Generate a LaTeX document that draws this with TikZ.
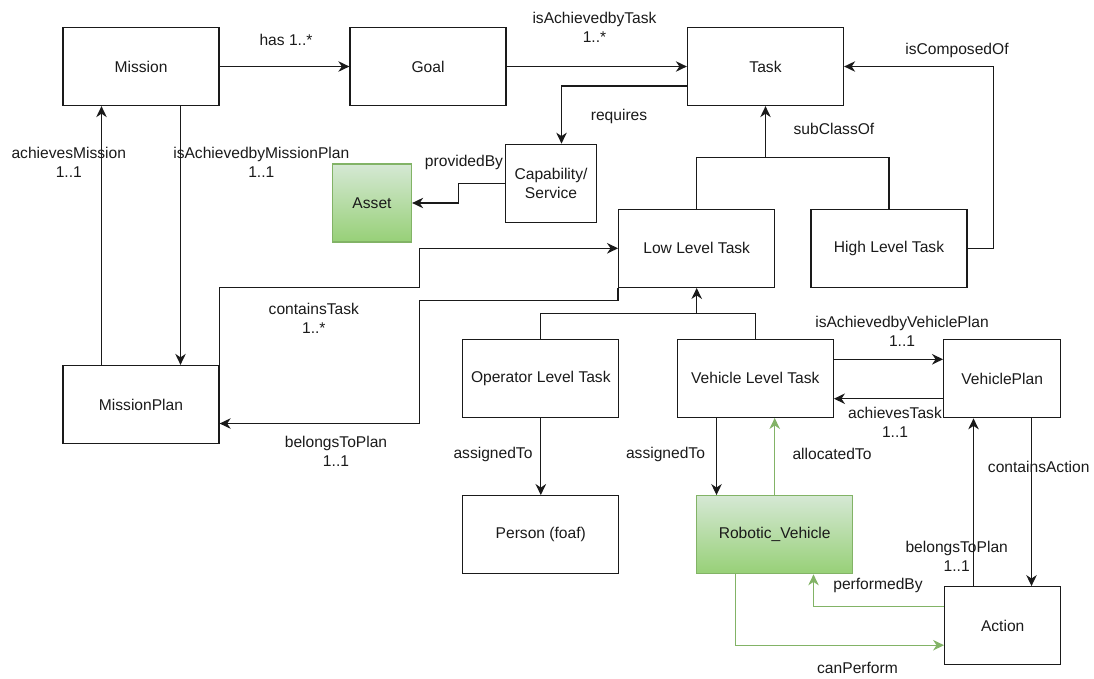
\documentclass[tikz,border=0pt]{standalone}
\usepackage{fontspec}
\setmainfont{Liberation Sans}
\usetikzlibrary{arrows.meta}
\definecolor{ink}{HTML}{1A1A1A}
\definecolor{gfillTop}{HTML}{D5E8D4}
\definecolor{gfillBot}{HTML}{97D077}
\definecolor{gline}{HTML}{82B366}
\tikzset{
  box/.style={draw=ink, line width=1.3pt, minimum width=156pt, minimum height=78pt,
    inner sep=0pt, align=center, text=ink, font=\fontsize{15.6}{19}\selectfont},
  greenbox/.style={box, draw=gline, top color=gfillTop, bottom color=gfillBot},
  lbl/.style={inner sep=0pt, align=center, text=ink, font=\fontsize{15.6}{19}\selectfont},
  arr/.style={draw=ink, line width=1.2pt, -{Stealth[length=11pt,width=10.5pt,inset=3.5pt]}},
  plain/.style={draw=ink, line width=1.2pt},
  garr/.style={draw=gline, line width=1.2pt, -{Stealth[length=11pt,width=10.5pt,inset=3.5pt]}},
}
\begin{document}
\begin{tikzpicture}[x=1pt, y=-1pt]
\useasboundingbox (0,0) rectangle (1094,678);

% classes
\node[box] (mission) at (141,66.5) {Mission};
\node[box] (goal) at (428,66.5) {Goal};
\node[box] (task) at (765.5,66.5) {Task};
\node[box, minimum width=91pt] (cap) at (551,183.3) {Capability/\\Service};
\node[greenbox, minimum width=79pt] (asset) at (372,203) {Asset};
\node[box] (low) at (696.7,248.3) {Low Level Task};
\node[box] (high) at (889,248.3) {High Level Task};
\node[box] (mplan) at (141,404.5) {MissionPlan};
\node[box] (op) at (540.8,378.3) {Operator Level Task};
\node[box] (veh) at (755.3,378.3) {Vehicle Level Task};
\node[box] (person) at (540.8,534.7) {Person (foaf)};
\node[greenbox] (robot) at (774.7,534.7) {Robotic\_Vehicle};
\node[box, minimum width=117pt] (vplan) at (1002.2,378.7) {VehiclePlan};
\node[box, minimum width=116pt] (action) at (1002.7,625.7) {Action};

% junction points of the subclass trees
\coordinate (sj) at (task.south |- 0,157.5);
\coordinate (lj) at (low.south |- 0,313.5);

% relations
\draw[arr] (mission.east) -- (goal.west);
\draw[arr] (goal.east) -- (task.west);
\draw[arr] ([yshift=-19.5pt]task.west) -| ([xshift=10.5pt]cap.north);
\draw[arr] (cap.west) -- ++(-46.5,0) |- (asset.east);
\draw[plain] (low.north) |- (sj);
\draw[plain] (high.north) |- (sj);
\draw[arr] (sj) -- (task.south);
\draw[arr] (high.east) -- ++(25.5,0) |- (task.east);
\draw[arr] ([xshift=-39.5pt]mplan.north) -- ([xshift=-39.5pt]mission.south);
\draw[arr] ([xshift=39.5pt]mission.south) -- ([xshift=39.5pt]mplan.north);
\draw[arr] (mplan.north east) |- (419.5,287.5) |- (low.west);
\draw[arr] (low.south west) |- (419.5,300.5) |- ([yshift=-19pt]mplan.east);
\draw[plain] (op.north) |- (lj);
\draw[plain] (veh.north) |- (lj);
\draw[arr] (lj) -- (low.south);
\draw[arr] (op.south) -- (person.north);
\draw[arr] ([xshift=-38.8pt]veh.south) -- ([xshift=-38.8pt]veh.south |- robot.north);
\draw[garr] (robot.north) -- (robot.north |- veh.south);
\draw[arr] ([yshift=19pt]veh.east) -- ([yshift=19pt]veh.east -| vplan.west);
\draw[arr] ([yshift=-20pt]vplan.west) -- ([yshift=-20pt]vplan.west -| veh.east);
\draw[arr] ([xshift=29.3pt]vplan.south) -- ([xshift=29.3pt]vplan.south |- action.north);
\draw[arr] ([xshift=-28.7pt]vplan.south |- action.north) -- ([xshift=-28.7pt]vplan.south);
\draw[garr] ([yshift=19.5pt]action.west) -| ([xshift=38.8pt]robot.south);
\draw[garr] ([xshift=-39.2pt]robot.south) |- ([yshift=-19.5pt]action.west);

% relation labels
\node[lbl] (l-has) at (286,40) {has 1..*};
\node[lbl] (l-achtask) at (594.5,27.8) {isAchievedbyTask\\1..*};
\node[lbl] (l-req) at (619,116.7) {requires};
\node[lbl] (l-comp) at (957,50) {isComposedOf};
\node[lbl] (l-sub) at (834,129.3) {subClassOf};
\node[lbl] (l-prov) at (464,162.3) {providedBy};
\node[lbl] (l-achmis) at (68.8,162.8) {achievesMission\\1..1};
\node[lbl] (l-achmp) at (261.3,162.8) {isAchievedbyMissionPlan\\1..1};
\node[lbl] (l-cont) at (313.8,318.7) {containsTask\\1..*};
\node[lbl] (l-belong) at (336,451.5) {belongsToPlan\\1..1};
\node[lbl] (l-achvp) at (902,331.7) {isAchievedbyVehiclePlan\\1..1};
\node[lbl] (l-achvt) at (895,422.8) {achievesTask\\1..1};
\node[lbl] (l-asg1) at (493,454) {assignedTo};
\node[lbl] (l-asg2) at (665.5,454) {assignedTo};
\node[lbl] (l-alloc) at (832,454.3) {allocatedTo};
\node[lbl] (l-contact) at (1038.7,467.3) {containsAction};
\node[lbl] (l-belong2) at (956.7,556.3) {belongsToPlan\\1..1};
\node[lbl] (l-perf) at (878,585) {performedBy};
\node[lbl] (l-can) at (857.5,667.7) {canPerform};
\end{tikzpicture}
\end{document}
